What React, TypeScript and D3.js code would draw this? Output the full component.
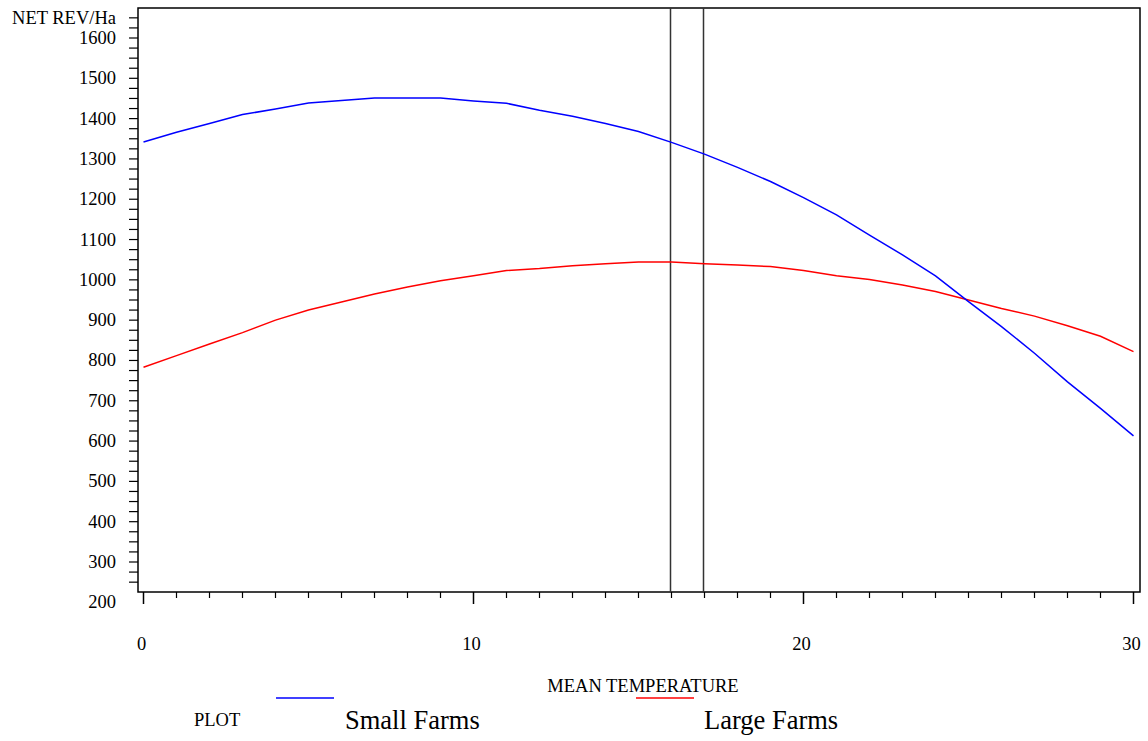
import { useEffect, useRef } from 'react';
import { select, scaleLinear, line, range } from 'd3';

const temps = range(0, 31);
const smallFarms = [
  1342, 1366, 1388, 1410, 1424, 1439, 1445, 1451, 1451, 1451, 1444, 1438,
  1421, 1406, 1388, 1368, 1341, 1312, 1279, 1244, 1204, 1161, 1111, 1062,
  1010, 946, 884, 818, 747, 681, 613,
];
const largeFarms = [
  783, 812, 841, 869, 900, 925, 945, 965, 982, 998, 1010, 1023, 1028, 1035,
  1040, 1044, 1044, 1040, 1037, 1033, 1023, 1010, 1001, 987, 971, 950, 929,
  910, 886, 860, 822,
];
const yTickLabels = [200, 300, 400, 500, 600, 700, 800, 900, 1000, 1100, 1200, 1300, 1400, 1500, 1600];
const xTickLabels = [0, 10, 20, 30];
const refLines = [16, 17];

const W = 1148;
const H = 741;
const frame = { left: 138, right: 1140, top: 8, bottom: 592 };
const FONT = '"Liberation Serif", "Times New Roman", serif';
const SMALL = '18.5px';

export default function App() {
  const svgRef = useRef<SVGSVGElement>(null);

  useEffect(() => {
    if (!svgRef.current) return;
    const svg = select(svgRef.current);
    svg.selectAll('*').remove();

    const x = scaleLinear().domain([0, 30]).range([143.5, 1133.5]);
    const y = scaleLinear().domain([1600, 300]).range([38, 562]);

    // frame
    svg
      .append('rect')
      .attr('x', frame.left)
      .attr('y', frame.top)
      .attr('width', frame.right - frame.left)
      .attr('height', frame.bottom - frame.top)
      .attr('fill', 'none')
      .attr('stroke', '#000')
      .attr('stroke-width', 1.5);

    // y ticks, every 25
    const yMinor = range(250, 1675, 25).filter((v) => y(v) <= frame.bottom);
    svg
      .selectAll('line.ytick')
      .data(yMinor)
      .join('line')
      .attr('class', 'ytick')
      .attr('x1', 129)
      .attr('x2', frame.left)
      .attr('y1', (d) => y(d))
      .attr('y2', (d) => y(d))
      .attr('stroke', '#000')
      .attr('stroke-width', 1.2);

    svg
      .selectAll('text.ylab')
      .data(yTickLabels)
      .join('text')
      .attr('class', 'ylab')
      .attr('x', 116)
      .attr('y', (d) => y(d) + 6)
      .attr('text-anchor', 'end')
      .style('font-family', FONT)
      .style('font-size', SMALL)
      .text((d) => d);

    svg
      .append('text')
      .attr('x', 116)
      .attr('y', 24)
      .attr('text-anchor', 'end')
      .style('font-family', FONT)
      .style('font-size', SMALL)
      .text('NET REV/Ha');

    // x ticks
    svg
      .selectAll('line.xtick')
      .data(temps)
      .join('line')
      .attr('class', 'xtick')
      .attr('x1', (d) => x(d))
      .attr('x2', (d) => x(d))
      .attr('y1', frame.bottom)
      .attr('y2', (d) => (d % 10 === 0 ? frame.bottom + 12 : frame.bottom + 6))
      .attr('stroke', '#000')
      .attr('stroke-width', (d) => (d % 10 === 0 ? 1.5 : 1.2));

    svg
      .selectAll('text.xlab')
      .data(xTickLabels)
      .join('text')
      .attr('class', 'xlab')
      .attr('x', (d) => x(d) - 2)
      .attr('y', 650)
      .attr('text-anchor', 'middle')
      .style('font-family', FONT)
      .style('font-size', SMALL)
      .text((d) => d);

    // reference lines
    svg
      .selectAll('line.ref')
      .data(refLines)
      .join('line')
      .attr('class', 'ref')
      .attr('x1', (d) => x(d) - 1)
      .attr('x2', (d) => x(d) - 1)
      .attr('y1', frame.top)
      .attr('y2', frame.bottom)
      .attr('stroke', '#333')
      .attr('stroke-width', 1.5);

    const gen = line<number>()
      .x((_, i) => x(temps[i]))
      .y((d) => y(d));

    svg
      .append('path')
      .attr('d', gen(largeFarms))
      .attr('fill', 'none')
      .attr('stroke', '#ff0000')
      .attr('stroke-width', 1.5);

    svg
      .append('path')
      .attr('d', gen(smallFarms))
      .attr('fill', 'none')
      .attr('stroke', '#0000ff')
      .attr('stroke-width', 1.5);

    // axis title
    svg
      .append('text')
      .attr('x', 643)
      .attr('y', 692)
      .attr('text-anchor', 'middle')
      .style('font-family', FONT)
      .style('font-size', SMALL)
      .text('MEAN TEMPERATURE');

    // legend
    svg
      .append('text')
      .attr('x', 194)
      .attr('y', 726)
      .style('font-family', FONT)
      .style('font-size', SMALL)
      .text('PLOT');

    const legend = [
      { name: 'Small Farms', color: '#0000ff', x0: 276, tx: 345 },
      { name: 'Large Farms', color: '#ff0000', x0: 636, tx: 704 },
    ];
    legend.forEach((l) => {
      svg
        .append('line')
        .attr('x1', l.x0)
        .attr('x2', l.x0 + 58)
        .attr('y1', 698)
        .attr('y2', 698)
        .attr('stroke', l.color)
        .attr('stroke-width', 1.5);
      svg
        .append('text')
        .attr('x', l.tx)
        .attr('y', 729)
        .style('font-family', FONT)
        .style('font-size', '26.5px')
        .text(l.name);
    });
  }, []);

  return (
    <svg
      ref={svgRef}
      width={W}
      height={H}
      style={{ position: 'absolute', left: 0, top: 0, background: '#fff' }}
    />
  );
}
